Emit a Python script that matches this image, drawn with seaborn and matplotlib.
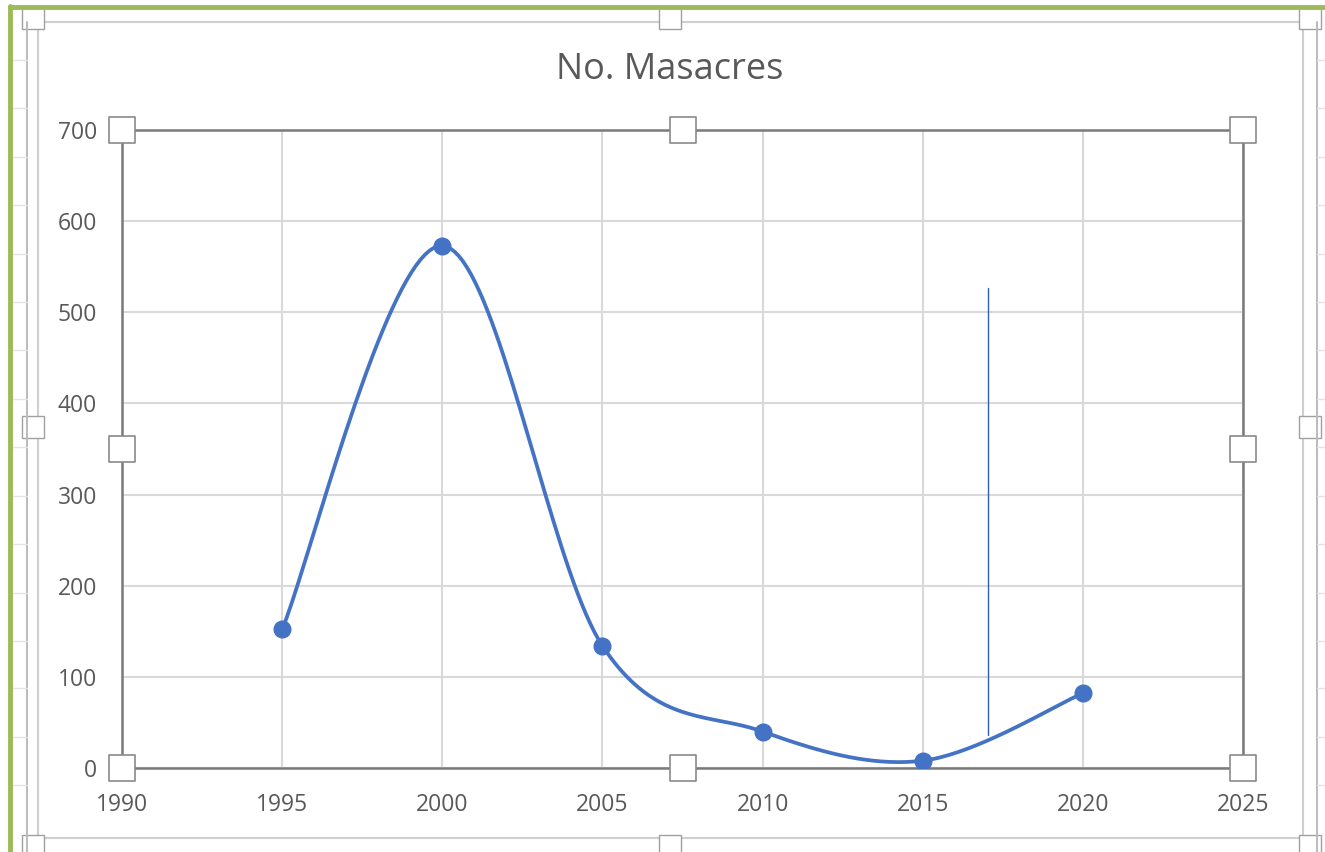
import numpy as np
import pandas as pd
import matplotlib
matplotlib.use("Agg")
import matplotlib.pyplot as plt
import seaborn as sns
from matplotlib.patches import Rectangle
from matplotlib.lines import Line2D

# data
years = [1995, 2000, 2005, 2010, 2015, 2020]
masacres = [152, 573, 134, 40, 8, 82]
xticks = [1990, 1995, 2000, 2005, 2010, 2015, 2020, 2025]
yticks = [0, 100, 200, 300, 400, 500, 600, 700]
# the thin drawn line shape near 2017
shape_x = [2017.05, 2017.05]
shape_y = [527, 36]

sns.set_theme(style="white")
plt.rcParams['font.family'] = ['Open Sans', 'DejaVu Sans']

df = pd.DataFrame({'year': years, 'n': masacres})


# excel style smoothed line (catmull-rom as bezier)
def smooth(xs, ys, n=40):
    P = np.column_stack([xs, ys]).astype(float)
    P = np.vstack([P[0], P, P[-1]])
    out = []
    for i in range(1, len(P) - 2):
        p0, p1, p2, p3 = P[i - 1], P[i], P[i + 1], P[i + 2]
        c1 = p1 + (p2 - p0) / 6
        c2 = p2 - (p3 - p1) / 6
        t = np.linspace(0, 1, n)[:, None]
        seg = (1 - t) ** 3 * p1 + 3 * (1 - t) ** 2 * t * c1 + 3 * (1 - t) * t ** 2 * c2 + t ** 3 * p2
        out.append(seg if i == 1 else seg[1:])
    s = np.vstack(out)
    return pd.DataFrame({'year': s[:, 0], 'n': s[:, 1]})


curve = smooth(years, masacres)

fig = plt.figure(figsize=(13.25, 8.52), dpi=100)
ax = fig.add_axes([122 / 1325, 1 - 768 / 852, (1243 - 122) / 1325, (768 - 130) / 852])

blue = '#4472C4'
sns.lineplot(data=curve, x='year', y='n', sort=False, color=blue, lw=2.7, ax=ax)
sns.scatterplot(data=df, x='year', y='n', color=blue, s=145, edgecolor=blue, zorder=5, ax=ax)
ax.plot(shape_x, shape_y, color='#2F5FA8', lw=1.0, zorder=6)

ax.set_xlim(1990, 2025)
ax.set_ylim(0, 700)
ax.set_xticks(xticks)
ax.set_yticks(yticks)
ax.grid(True, color='#d9d9d9', lw=1.5)
ax.set_axisbelow(True)
ax.set_xlabel('')
ax.set_ylabel('')
ax.tick_params(labelsize=16.5, colors='#595959', length=0)
ax.tick_params(axis='x', pad=18)
ax.tick_params(axis='y', pad=18)
for sp in ax.spines.values():
    sp.set_color('#7a7a7a')
    sp.set_linewidth(1.8)

fig.text(670 / 1325, 1 - 70 / 852, 'No. Masacres', ha='center', va='center',
         fontsize=26, color='#595959')

# chart area border and excel sheet bits
fig.patches.append(Rectangle((38 / 1325, 1 - 838 / 852), (1303 - 38) / 1325, (838 - 22) / 852,
                             transform=fig.transFigure, fill=False, ec='#cfcfcf', lw=1.5))
fig.lines.append(Line2D([27 / 1325, 27 / 1325], [0, 1 - 22 / 852], transform=fig.transFigure,
                        color='#bdbdbd', lw=1.5))
fig.lines.append(Line2D([1317 / 1325, 1317 / 1325], [0, 1 - 22 / 852], transform=fig.transFigure,
                        color='#bdbdbd', lw=1.5))
for yy in [60, 108, 157, 205, 254, 302, 350, 399, 447, 496, 544, 593, 641, 688, 737, 785]:
    fig.lines.append(Line2D([12 / 1325, 27 / 1325], [1 - yy / 852] * 2, transform=fig.transFigure,
                            color='#e3e3e3', lw=1))
    fig.lines.append(Line2D([1317 / 1325, 1], [1 - yy / 852] * 2, transform=fig.transFigure,
                            color='#e3e3e3', lw=1))
fig.lines.append(Line2D([10 / 1325, 10 / 1325], [0, 1 - 6 / 852], transform=fig.transFigure,
                        color='#9BBB59', lw=3.5))
fig.lines.append(Line2D([10 / 1325, 1], [1 - 7 / 852] * 2, transform=fig.transFigure,
                        color='#9BBB59', lw=3.5))

# selection handles
hx = [0, 0.5, 1, 0, 1, 0, 0.5, 1]
hy = [1, 1, 1, 0.5, 0.5, 0, 0, 0]
ax.scatter(hx, hy, marker='s', s=330, c='white', edgecolors='#8a8a8a', linewidths=1.2,
           transform=ax.transAxes, clip_on=False, zorder=10)
fx = [33, 670, 1310, 33, 1310, 33, 670, 1310]
fy = [18, 18, 18, 427, 427, 846, 846, 846]
for a, b in zip(fx, fy):
    fig.patches.append(Rectangle((a / 1325 - 0.0081, 1 - b / 852 - 0.0126), 0.0162, 0.0252,
                                 transform=fig.transFigure, fc='white', ec='#a0a0a0', lw=1.0))

fig.savefig('out.png', dpi=100, facecolor='white')
